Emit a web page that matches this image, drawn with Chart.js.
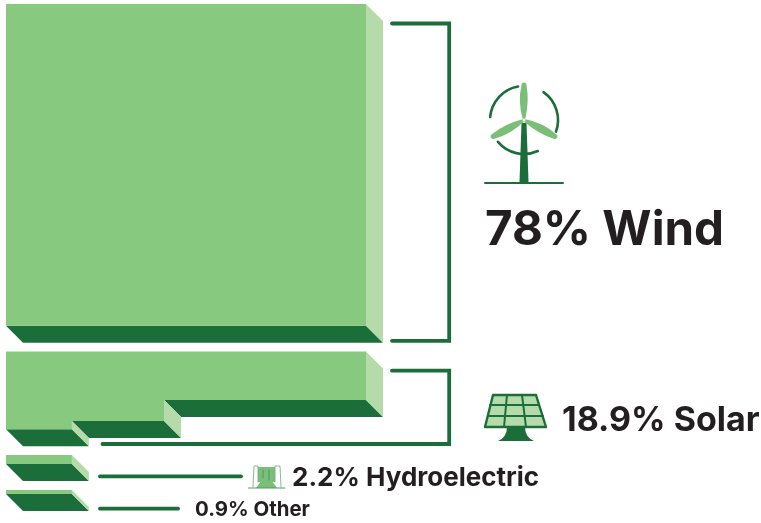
<!DOCTYPE html>
<html lang="en">
<head>
<meta charset="UTF-8">
<title>Renewable capacity by source</title>
<script src="https://cdn.jsdelivr.net/npm/chart.js"></script>
<style>
    html, body { margin: 0; background: #fff; }
    canvas { display: block; }
</style>
</head>
<body>
<canvas id="chart" width="761" height="523"></canvas>
<script>
// Shares shown in the labels
const categories = ['Wind', 'Solar', 'Hydroelectric', 'Other'];
const shares = [78, 18.9, 2.2, 0.9];

// Block shapes, in units of block width (full width = 100)
const windEnds = [100];
const windHeights = [89.4];
const solarEnds = [18.3, 43.9, 100];
const solarHeights = [21.6, 19.3, 13.5];
const hydroEnds = [18.3];
const hydroHeights = [2.5];
const otherEnds = [18.3];
const otherHeights = [1.1];
const blockTops = [0, 96.5, 125.3, 135];

const MAIN = '#86c97f', DARK = '#1b6e3a', PALE = '#b4dba9', INK = '#231f20', BLADE = '#7bbe78';
const UNIT = 3.6, DEPTH = 17 / UNIT;

function face(points, color) {
    return {
        data: points.map(p => ({ x: p[0], y: p[1] })),
        showLine: true, fill: 'shape', backgroundColor: color,
        borderWidth: 0, pointRadius: 0, tension: 0
    };
}

// one block: staircase top face, plus dark front and pale side for every step
function blockFaces(top, ends, heights) {
    const out = [];
    const outline = [[0, top], [ends[ends.length - 1], top]];
    for (let i = ends.length - 1; i >= 0; i--) {
        const bottom = top + heights[i];
        outline.push([ends[i], bottom]);
        outline.push([i > 0 ? ends[i - 1] : 0, bottom]);
    }
    out.push(face(outline, MAIN));
    ends.forEach((end, i) => {
        const start = i > 0 ? ends[i - 1] : 0;
        const bottom = top + heights[i];
        const upper = i < ends.length - 1 ? top + heights[i + 1] : top;
        out.push(face([[end, upper], [end, bottom], [end + DEPTH, bottom + DEPTH], [end + DEPTH, upper + DEPTH]], PALE));
        out.push(face([[start, bottom], [end, bottom], [end + DEPTH, bottom + DEPTH], [start + DEPTH, bottom + DEPTH]], DARK));
    });
    return out;
}

function polyline(ctx, pts, width, color) {
    ctx.beginPath();
    pts.forEach((p, i) => i ? ctx.lineTo(p[0], p[1]) : ctx.moveTo(p[0], p[1]));
    ctx.lineWidth = width;
    ctx.strokeStyle = color;
    ctx.lineCap = 'round';
    ctx.lineJoin = 'miter';
    ctx.stroke();
}

function fillPoly(ctx, pts, color) {
    ctx.beginPath();
    pts.forEach((p, i) => i ? ctx.lineTo(p[0], p[1]) : ctx.moveTo(p[0], p[1]));
    ctx.closePath();
    ctx.fillStyle = color;
    ctx.fill();
}

function drawTurbine(ctx) {
    const cx = 524, cy = 120, r = 34;
    ctx.lineCap = 'round';
    ctx.lineWidth = 2.6;
    ctx.strokeStyle = DARK;
    [[185, 260], [305, 380], [66, 140]].forEach(a => {
        ctx.beginPath();
        ctx.arc(cx, cy, r, a[0] * Math.PI / 180, a[1] * Math.PI / 180);
        ctx.stroke();
    });
    fillPoly(ctx, [[521.5, 123], [526.5, 123], [528.5, 182], [519.5, 182]], DARK);
    polyline(ctx, [[485, 183], [563, 183]], 2, DARK);
    // blades
    const blade = (angle) => {
        ctx.save();
        ctx.translate(cx, cy);
        ctx.rotate(angle * Math.PI / 180);
        ctx.beginPath();
        ctx.moveTo(-1, 0);
        ctx.quadraticCurveTo(-6.5, -18, -2.5, -35);
        ctx.arc(0, -35, 2.5, Math.PI, 0);
        ctx.quadraticCurveTo(5.5, -18, 1, 0);
        ctx.closePath();
        ctx.fillStyle = BLADE;
        ctx.fill();
        ctx.restore();
    };
    blade(0); blade(-118); blade(118);
    ctx.beginPath();
    ctx.arc(cx, cy, 1.5, 0, 7);
    ctx.fillStyle = '#fff';
    ctx.fill();
}

function drawPanel(ctx) {
    const panel = [[493, 395], [536, 395], [546, 427], [485, 427]];
    // stand flares out towards the ground
    ctx.beginPath();
    ctx.moveTo(507, 427);
    ctx.lineTo(525, 427);
    ctx.quadraticCurveTo(525, 437, 534, 441);
    ctx.lineTo(498, 441);
    ctx.quadraticCurveTo(507, 437, 507, 427);
    ctx.closePath();
    ctx.fillStyle = DARK;
    ctx.fill();
    fillPoly(ctx, panel, PALE);
    ctx.lineJoin = 'round';
    ctx.lineWidth = 2.4;
    ctx.strokeStyle = DARK;
    ctx.beginPath();
    panel.forEach((p, i) => i ? ctx.lineTo(p[0], p[1]) : ctx.moveTo(p[0], p[1]));
    ctx.closePath();
    ctx.stroke();
    const lines = [[[507, 395], [504, 427]], [[522, 395], [526, 427]], [[490, 405], [539, 405]], [[488, 416], [543, 416]]];
    lines.forEach(l => polyline(ctx, l, 2, DARK));
}

function drawDam(ctx) {
    fillPoly(ctx, [[258, 467], [275, 467], [275, 482], [258, 482]], BLADE);
    fillPoly(ctx, [[256, 488], [261, 481], [272, 481], [277, 488]], BLADE);
    polyline(ctx, [[248.5, 488], [285, 488]], 1, '#4f9a68');
    polyline(ctx, [[253, 487], [254, 466], [258, 466], [258, 482]], 0.8, '#6aa87a');
    polyline(ctx, [[281, 487], [280, 466], [275, 466], [275, 482]], 0.8, '#6aa87a');
    polyline(ctx, [[263, 470], [263, 478]], 0.8, '#3f8f5c');
    polyline(ctx, [[269, 470], [269, 480]], 0.8, '#3f8f5c');
}

// brackets, icons and labels sit on top of the blocks
const annotations = {
    id: 'annotations',
    afterDatasetsDraw(chart) {
        const ctx = chart.ctx;
        ctx.save();
        polyline(ctx, [[392, 23.5], [449.2, 23.5], [449.2, 340.8], [392, 340.8]], 3.8, DARK);
        polyline(ctx, [[392, 370.7], [449.2, 370.7], [449.2, 444], [102.5, 444]], 3.8, DARK);
        polyline(ctx, [[100, 476.3], [241, 476.3]], 3.8, DARK);
        polyline(ctx, [[100, 508.7], [178, 508.7]], 3.8, DARK);
        drawTurbine(ctx);
        drawPanel(ctx);
        drawDam(ctx);
        ctx.fillStyle = INK;
        ctx.textBaseline = 'alphabetic';
        const labelSpec = [
            [485, 245, 47.5],
            [562, 431, 34],
            [292, 486, 26],
            [195, 516, 20.4]
        ];
        categories.forEach((name, i) => {
            ctx.font = '700 ' + labelSpec[i][2] + 'px Inter, sans-serif';
            ctx.fillText(shares[i] + '% ' + name, labelSpec[i][0], labelSpec[i][1]);
        });
        ctx.restore();
    }
};

new Chart(document.getElementById('chart'), {
    type: 'scatter',
    data: {
        datasets: [
            ...blockFaces(blockTops[0], windEnds, windHeights),
            ...blockFaces(blockTops[1], solarEnds, solarHeights),
            ...blockFaces(blockTops[2], hydroEnds, hydroHeights),
            ...blockFaces(blockTops[3], otherEnds, otherHeights)
        ]
    },
    options: {
        responsive: false,
        animation: false,
        layout: { padding: 0 },
        scales: {
            x: { type: 'linear', display: false, min: -6 / UNIT, max: 755 / UNIT },
            y: { type: 'linear', display: false, reverse: true, min: -4 / UNIT, max: 519 / UNIT }
        },
        plugins: { legend: { display: false }, tooltip: { enabled: false } }
    },
    plugins: [annotations]
});
</script>
</body>
</html>
